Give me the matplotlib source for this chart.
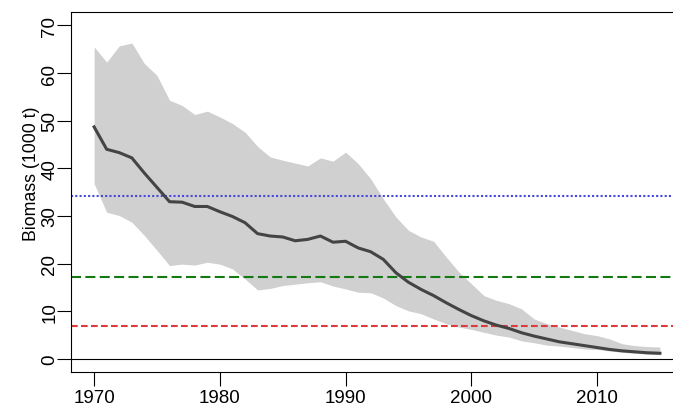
import numpy as np
import matplotlib
matplotlib.use("Agg")
import matplotlib.pyplot as plt

plt.rcParams['font.family'] = ['Liberation Sans', 'DejaVu Sans']

years = np.arange(1970, 2016)

# median biomass and the shaded interval (1000 t)
biomass = [48.7, 44.0, 43.3, 42.2, 39.0, 36.0, 33.0, 32.9, 32.0, 32.0,
           30.9, 29.9, 28.6, 26.3, 25.8, 25.6, 24.8, 25.1, 25.8, 24.5,
           24.7, 23.3, 22.5, 20.9, 18.1, 16.1, 14.6, 13.3, 11.8, 10.4,
           9.1, 8.0, 7.1, 6.4, 5.5, 4.8, 4.2, 3.6, 3.2, 2.8,
           2.4, 2.0, 1.7, 1.5, 1.3, 1.2]
upper = [65.5, 62.3, 65.7, 66.3, 62.0, 59.5, 54.3, 53.2, 51.3, 52.0,
         50.8, 49.4, 47.6, 44.6, 42.4, 41.7, 41.1, 40.5, 42.2, 41.5,
         43.4, 41.0, 37.8, 33.6, 29.8, 27.0, 25.6, 24.7, 21.4, 18.3,
         15.8, 13.3, 12.3, 11.6, 10.5, 8.4, 7.4, 6.7, 6.0, 5.3,
         4.9, 4.2, 3.2, 2.8, 2.6, 2.5]
lower = [36.8, 30.8, 30.1, 28.7, 25.9, 22.8, 19.6, 19.9, 19.7, 20.3,
         19.9, 18.9, 16.8, 14.5, 14.8, 15.4, 15.7, 16.0, 16.2, 15.3,
         14.7, 14.0, 13.9, 12.8, 11.2, 10.1, 9.5, 8.4, 7.4, 6.7,
         6.2, 5.6, 5.0, 4.6, 3.8, 3.4, 2.9, 2.7, 2.4, 2.1,
         2.0, 1.7, 1.4, 1.2, 1.0, 0.9]

# reference points
b_target = 34.3
b_trigger = 17.1
b_limit = 6.85

x_ticks = [1970, 1980, 1990, 2000, 2010]
y_ticks = [0, 10, 20, 30, 40, 50, 60, 70]


def main():
    fig = plt.figure(figsize=(6.73, 4.06), dpi=100)
    ax = fig.add_axes([0.1062, 0.0805, 0.908, 0.8874])

    ax.fill_between(years, lower, upper, color='#d0d0d0', linewidth=0)
    ax.axhline(0, color='black', linewidth=0.8)
    ax.axhline(b_target, color='#4848dc', linewidth=1.5, linestyle=(0, (1, 1.05)))
    ax.axhline(b_trigger, color='#137a13', linewidth=1.5, linestyle=(0, (4.8, 2.1)))
    ax.axhline(b_limit, color='#dd3a3a', linewidth=1.5, linestyle=(0, (3.2, 1.6)))
    ax.plot(years, biomass, color='#444444', linewidth=2.2, solid_joinstyle='round')

    ax.set_xlim(1968.2, 2016.8)
    ax.set_ylim(-2.8, 72.8)
    ax.set_xticks(x_ticks)
    ax.set_yticks(y_ticks)
    ax.tick_params(axis='both', length=10, width=0.8, labelsize=13.5)
    ax.tick_params(axis='x', pad=2)
    ax.tick_params(axis='y', pad=-0.5)
    for lab in ax.get_yticklabels():
        lab.set_rotation(90)
        lab.set_va('center')
    for s in ax.spines.values():
        s.set_linewidth(0.8)

    fig.text(31 / 673, 1 - 173.5 / 406, 'Biomass (1000 t)', rotation=90,
             ha='center', va='center', fontsize=12.8)

    fig.savefig('out.png', dpi=100)


if __name__ == '__main__':
    main()
